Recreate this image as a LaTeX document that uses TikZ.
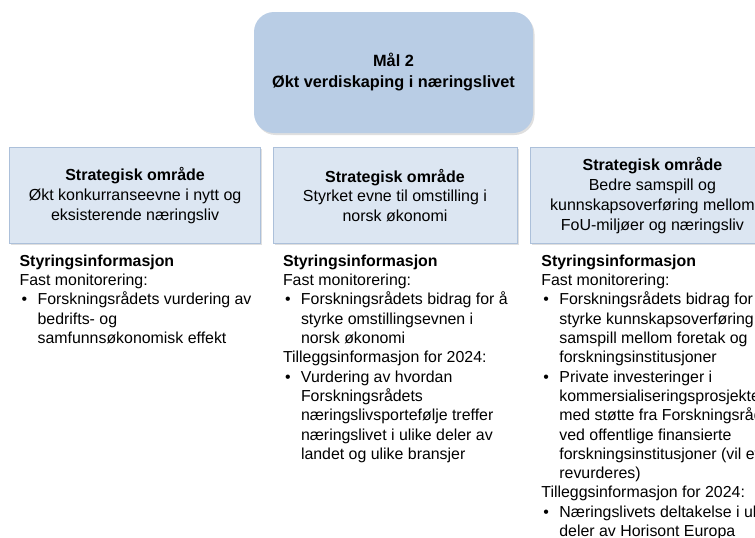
\documentclass[tikz,border=0pt]{standalone}
\usepackage{fontspec}
\setmainfont{Liberation Sans}
\usetikzlibrary{positioning,shadows}

\definecolor{goalblue}{RGB}{185,205,229}
\definecolor{areablue}{RGB}{220,230,242}
\definecolor{areaedge}{RGB}{172,192,218}

\newcommand{\bul}{\makebox[18pt][l]{\hspace{2pt}\textbullet}}
\newcommand{\ind}{\hspace*{18pt}}

\begin{document}
\begin{tikzpicture}[
  x=1pt, y=-1pt,
  font=\fontsize{15.9}{19.3}\selectfont,
  node distance=14pt and 12pt,
  goal/.style={fill=goalblue, rounded corners=20pt,
               minimum width=279pt, minimum height=121pt,
               align=center, font=\fontsize{16.3}{21}\selectfont\bfseries,
               drop shadow={opacity=0.25, shadow xshift=1.5pt, shadow yshift=-2pt}},
  area/.style={draw=areaedge, fill=areablue,
               minimum width=244pt, minimum height=96pt,
               align=center, inner sep=2pt,
               font=\fontsize{16}{19.8}\selectfont,
               drop shadow={opacity=0.25, shadow xshift=1.5pt, shadow yshift=-2pt}},
  info/.style={align=left, inner sep=0pt},
]
  \clip (0,0) rectangle (755,538);

  %% Goal
  \node[goal] (goal) at (393.5,72.5) {Mål 2\\Økt verdiskaping i næringslivet};

  %% Strategic areas
  \node[area, below=14pt of goal, xshift=1.5pt] (areaB)
    {\textbf{Strategisk område}\\Styrket evne til omstilling i\\norsk økonomi};
  \node[area, minimum width=251pt, left=12pt of areaB] (areaA)
    {\textbf{Strategisk område}\\Økt konkurranseevne i nytt og\\eksisterende næringsliv};
  \node[area, right=13pt of areaB] (areaC)
    {\textbf{Strategisk område}\\Bedre samspill og\\kunnskapsoverføring mellom\\FoU-miljøer og næringsliv};

  %% Management information
  \node[info, below right=11pt and 10pt of areaA.south west] (infoA)
    {\textbf{Styringsinformasjon}\\
     Fast monitorering:\\
     \bul Forskningsrådets vurdering av\\
     \ind bedrifts- og\\
     \ind samfunnsøkonomisk effekt};
  \node[info, below right=11pt and 10pt of areaB.south west] (infoB)
    {\textbf{Styringsinformasjon}\\
     Fast monitorering:\\
     \bul Forskningsrådets bidrag for å\\
     \ind styrke omstillingsevnen i\\
     \ind norsk økonomi\\
     Tilleggsinformasjon for 2024:\\
     \bul Vurdering av hvordan\\
     \ind Forskningsrådets\\
     \ind næringslivsportefølje treffer\\
     \ind næringslivet i ulike deler av\\
     \ind landet og ulike bransjer};
  \node[info, below right=11pt and 11pt of areaC.south west] (infoC)
    {\textbf{Styringsinformasjon}\\
     Fast monitorering:\\
     \bul Forskningsrådets bidrag for å\\
     \ind styrke kunnskapsoverføring og\\
     \ind samspill mellom foretak og\\
     \ind forskningsinstitusjoner\\
     \bul Private investeringer i\\
     \ind kommersialiseringsprosjekter\\
     \ind med støtte fra Forskningsrådet\\
     \ind ved offentlige finansierte\\
     \ind forskningsinstitusjoner (vil evt.\\
     \ind revurderes)\\
     Tilleggsinformasjon for 2024:\\
     \bul Næringslivets deltakelse i ulike\\
     \ind deler av Horisont Europa};
\end{tikzpicture}
\end{document}
